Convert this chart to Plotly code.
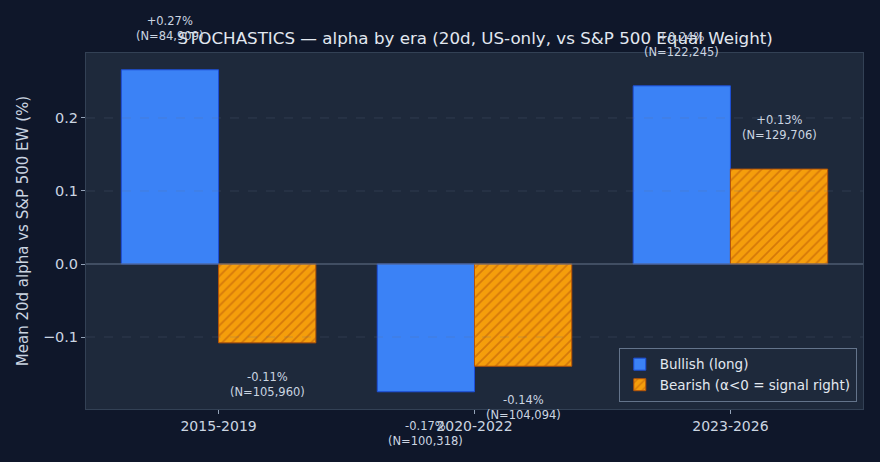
import plotly.graph_objects as go

eras = ["2015-2019", "2020-2022", "2023-2026"]
bull_vals = [0.266, -0.175, 0.244]
bear_vals = [-0.108, -0.140, 0.130]
bull_labels = ["+0.27%", "-0.17%", "+0.24%"]
bear_labels = ["-0.11%", "-0.14%", "+0.13%"]
bull_n = ["84,909", "100,318", "122,245"]
bear_n = ["105,960", "104,094", "129,706"]

W = 0.38
YMIN, YMAX = -0.1986, 0.289
xs = list(range(len(eras)))
bull_x = [x - W / 2 for x in xs]
bear_x = [x + W / 2 for x in xs]

fig = go.Figure()
fig.add_trace(go.Bar(
    x=bull_x, y=bull_vals, width=W, name="Bullish (long)",
    marker=dict(color="#3b82f6", line=dict(color="#1d4ed8", width=1)),
))
fig.add_trace(go.Bar(
    x=bear_x, y=bear_vals, width=W, name="Bearish (α<0 = signal right)",
    marker=dict(color="#f59e0b", line=dict(color="#b45309", width=1),
                pattern=dict(shape="/", fgcolor="#b45309", bgcolor="#f59e0b", size=7, solidity=0.25)),
))

off = 0.057
for x, v, l, n in zip(bull_x + bear_x, bull_vals + bear_vals,
                      bull_labels + bear_labels, bull_n + bear_n):
    yv = v + (off if v >= 0 else -off)
    fig.add_annotation(x=x, xref="x", y=(yv - YMIN) / (YMAX - YMIN), yref="paper",
                       text=f"{l}<br>(N={n})", showarrow=False,
                       font=dict(size=11.5, color="#cbd5e1"),
                       yanchor="middle", xanchor="center")

ytick_vals = [-0.1, 0.0, 0.1, 0.2]
for t in ytick_vals:
    if t == 0:
        continue
    fig.add_shape(type="line", xref="x domain", x0=0, x1=1, yref="y", y0=t, y1=t,
                  line=dict(color="rgba(100,116,139,0.25)", width=1, dash="dash"), layer="above")
fig.add_shape(type="line", xref="x domain", x0=0, x1=1, yref="y", y0=0, y1=0,
              line=dict(color="#64748b", width=1), layer="above")

fig.update_layout(
    width=880, height=462,
    paper_bgcolor="#0f172a", plot_bgcolor="#1e293b",
    margin=dict(l=86, r=17, t=53, b=53),
    font=dict(family="DejaVu Sans", color="#cbd5e1"),
    title=dict(text="STOCHASTICS — alpha by era (20d, US-only, vs S&P 500 Equal Weight)",
               x=0.54, xanchor="center", y=0.917, yanchor="middle",
               font=dict(size=16.7, color="#e2e8f0")),
    barmode="overlay",
    showlegend=True,
    legend=dict(x=0.992, y=0.02, xanchor="right", yanchor="bottom",
                bgcolor="#1e293b", bordercolor="#64748b", borderwidth=1,
                font=dict(size=13.5, color="#e2e8f0")),
)
fig.update_xaxes(range=[-0.518, 2.518], tickvals=xs, ticktext=eras,
                 showgrid=False, zeroline=False, ticks="outside", ticklen=4,
                 tickcolor="#94a3b8", tickfont=dict(size=14, color="#cbd5e1"),
                 showline=True, linecolor="#334155", mirror=True)
fig.update_yaxes(range=[YMIN, YMAX], tickvals=ytick_vals,
                 ticktext=["−0.1", "0.0", "0.1", "0.2"],
                 showgrid=False, zeroline=False, ticks="outside", ticklen=4,
                 tickcolor="#94a3b8", tickfont=dict(size=14.5, color="#cbd5e1"),
                 showline=True, linecolor="#334155", mirror=True,
                 title=dict(text="Mean 20d alpha vs S&P 500 EW (%)", font=dict(size=15, color="#cbd5e1"),
                            standoff=10))

fig.write_html("out.html", config={"displayModeBar": False},
               post_script="document.body.style.margin='0';document.body.style.background='#0f172a';")
